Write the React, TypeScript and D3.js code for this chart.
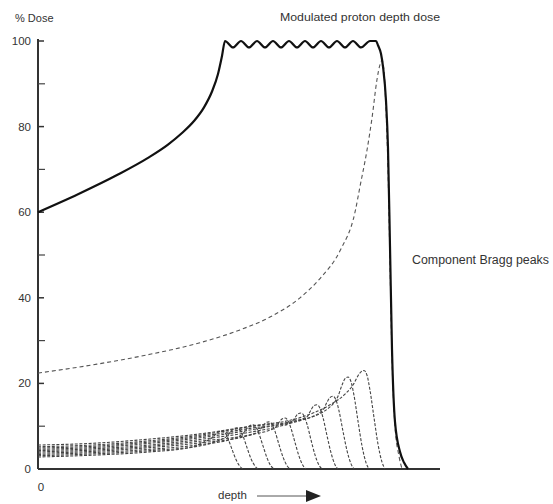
import React from 'react';
import * as d3 from 'd3';

// depth in mm, dose in %
const modulatedDose: [number, number][] = [
  [0, 60], [20, 64.2], [40, 68.8], [55, 72.7], [65, 75.8], [72, 78.5], [78, 81.3],
  [83, 84.5], [87, 88.2], [90, 92.3], [92, 96.5], [93.5, 100], [97.5, 98.5], [101.5, 100], [105.5, 98.5],
  [109.5, 100], [113.5, 98.5], [117.5, 100], [121.5, 98.5], [125.5, 100],
  [129.5, 98.5], [133.5, 100], [137.5, 98.5], [141.5, 100], [145.5, 98.5],
  [149.5, 100], [153.5, 98.5], [157.5, 100], [161.5, 98.5], [166, 100],
  [169, 100], [170, 99], [171.5, 97], [172.5, 94], [174, 86], [175, 75],
  [176, 52], [177, 28], [178.5, 11], [181, 4], [183, 1.5], [185, 0],
];

const deepestPeak: [number, number][] = [
  [0, 22.4], [29.5, 24.5], [56, 26.8], [81, 29.5], [101, 32.5], [116, 35.5], [131, 40],
  [141, 44.5], [151, 51], [158.5, 60], [161, 66], [164.5, 74.5], [167, 82], [169.5, 91],
  [171, 94.5], [172, 95.5], [173, 93], [174, 84], [175, 70], [176, 48], [177, 26],
  [178.5, 10], [180.5, 3], [182, 0],
];

const peak1: [number, number][] = [
  [0, 2.8], [31, 3.3], [56, 4.0], [76, 5.0], [83, 6.3], [87, 7.3], [89, 8.2], [90.5, 8.75],
  [92, 8.9], [93.5, 8.5], [95, 7.1], [97, 4.6], [99, 2.2], [101, 0.6], [102.5, 0],
];
const peak2: [number, number][] = [
  [0, 3.1], [31, 3.6], [56, 4.3], [81, 5.4], [90, 6.6], [94.5, 7.7], [96.5, 8.8], [98, 9.45],
  [99.5, 9.6], [101, 9.1], [102.5, 7.7], [104.5, 5.0], [106.5, 2.4], [108.5, 0.7], [110, 0],
];
const peak3: [number, number][] = [
  [0, 3.4], [31, 3.9], [56, 4.6], [81, 5.7], [97, 7.0], [102.5, 8.3], [104.5, 9.5], [106, 10.15],
  [107.5, 10.3], [109, 9.8], [110.5, 8.2], [112.5, 5.4], [114.5, 2.6], [116.5, 0.7], [118, 0],
];
const peak4: [number, number][] = [
  [0, 3.7], [31, 4.2], [56, 5.0], [81, 6.1], [103.5, 7.6], [110.5, 8.9], [112.5, 10.1], [114, 10.85],
  [115.5, 11.0], [117, 10.5], [118.5, 8.8], [120.5, 5.7], [122.5, 2.8], [124.5, 0.8], [126, 0],
];
const peak5: [number, number][] = [
  [0, 4.0], [31, 4.5], [56, 5.3], [81, 6.5], [106, 8.0], [118.5, 9.6], [120.5, 10.9], [122, 11.7],
  [123.5, 11.9], [125, 11.3], [126.5, 9.5], [128.5, 6.2], [130.5, 3.0], [132.5, 0.8], [134, 0],
];
const peak6: [number, number][] = [
  [0, 4.3], [31, 4.8], [56, 5.6], [81, 6.9], [106, 8.6], [121, 10.0], [126.5, 10.8], [128.5, 12.0],
  [130, 12.9], [131.5, 13.1], [133, 12.4], [134.5, 10.5], [136.5, 6.8], [138.5, 3.3], [140.5, 0.9], [142, 0],
];
const peak7: [number, number][] = [
  [0, 4.6], [31, 5.1], [56, 6.0], [81, 7.3], [106, 9.1], [126, 11.0], [134.5, 12.2], [136.5, 13.8],
  [138, 14.8], [139.5, 15.0], [141, 14.2], [142.5, 12.0], [144.5, 7.8], [146.5, 3.8], [148.5, 1.0], [150, 0],
];
const peak8: [number, number][] = [
  [0, 4.9], [31, 5.4], [56, 6.3], [81, 7.6], [106, 9.5], [131, 11.3], [142.5, 13.8], [144.5, 15.6],
  [146, 16.7], [147.5, 17.0], [149, 16.1], [150.5, 13.6], [152.5, 8.8], [154.5, 4.3], [156.5, 1.2], [158, 0],
];
const peak9: [number, number][] = [
  [0, 5.2], [31, 5.7], [56, 6.6], [81, 7.9], [106, 9.9], [131, 11.4], [146, 14.5], [150, 17.0],
  [152, 19.6], [153.5, 21.1], [155, 21.5], [156.5, 20.4], [158, 17.2], [160, 11.2], [162, 5.4],
  [164, 1.5], [165.5, 0],
];
const peak10: [number, number][] = [
  [0, 5.6], [31, 6.1], [56, 7.0], [81, 8.2], [106, 10.0], [131, 12.0], [146, 15.0], [153.5, 17.5],
  [158, 20.0], [160, 21.8], [161.5, 22.7], [163, 23.0], [164.5, 21.9], [166, 18.4], [168, 12.0],
  [170, 5.8], [172, 1.6], [173.5, 0],
];
const componentPeaks = [peak1, peak2, peak3, peak4, peak5, peak6, peak7, peak8, peak9, peak10];

const majorTicks = [0, 20, 40, 60, 80, 100];
const minorTicks = [10, 30, 50, 70, 90];

const width = 553;
const height = 504;
const font = '"Liberation Sans", Arial, sans-serif';

export default function App() {
  const x = d3.scaleLinear().domain([0, 201]).range([38, 440]);
  const y = d3.scaleLinear().domain([0, 100]).range([469, 41]);

  const line = d3.line<[number, number]>()
    .x(d => x(d[0]))
    .y(d => y(d[1]))
    .curve(d3.curveMonotoneX);

  return (
    <svg width={width} height={height} style={{ position: 'absolute', left: 0, top: 0, background: '#fff' }}>
      {/* axes */}
      <line x1={x(0)} x2={x(0)} y1={y(0)} y2={y(100) - 2} stroke="#333" strokeWidth={2} />
      <line x1={x(0)} x2={x(201)} y1={y(0)} y2={y(0)} stroke="#333" strokeWidth={2} />
      {majorTicks.map(t => (
        <g key={'M' + t}>
          <line x1={x(0)} x2={x(0) + 6} y1={y(t)} y2={y(t)} stroke="#333" strokeWidth={1.5} />
          <text x={31} y={y(t)} dy="0.35em" textAnchor="end" fontFamily={font} fontSize={11.5} fill="#333">{t}</text>
        </g>
      ))}
      {minorTicks.map(t => (
        <line key={'m' + t} x1={x(0)} x2={x(0) + 7} y1={y(t)} y2={y(t)} stroke="#444" strokeWidth={1.2} />
      ))}
      <text x={x(0) + 3} y={491} textAnchor="middle" fontFamily={font} fontSize={11.5} fill="#333">0</text>
      <text x={15} y={22} fontFamily={font} fontSize={11} fill="#333">% Dose</text>

      {/* component peaks */}
      {componentPeaks.map((p, i) => (
        <path key={i} d={line(p) ?? ''} fill="none" stroke="#444" strokeWidth={1.1} strokeDasharray="3 1.6" />
      ))}
      <path d={line(deepestPeak) ?? ''} fill="none" stroke="#555" strokeWidth={1.1} strokeDasharray="4 3" />
      <path d={line(modulatedDose) ?? ''} fill="none" stroke="#111" strokeWidth={2.2} />

      {/* labels */}
      <text x={280} y={21} fontFamily={font} fontSize={11.5} fill="#333" textLength={160} lengthAdjust="spacingAndGlyphs">Modulated proton depth dose</text>
      <text x={412} y={264} fontFamily={font} fontSize={12} fill="#333" textLength={137} lengthAdjust="spacingAndGlyphs">Component Bragg peaks</text>
      <text x={218} y={499} fontFamily={font} fontSize={11.5} fill="#333">depth</text>
      <line x1={257} x2={308} y1={496} y2={496} stroke="#555" strokeWidth={1} />
      <path d="M306,490 L321,496 L306,502 Z" fill="#222" />
    </svg>
  );
}
